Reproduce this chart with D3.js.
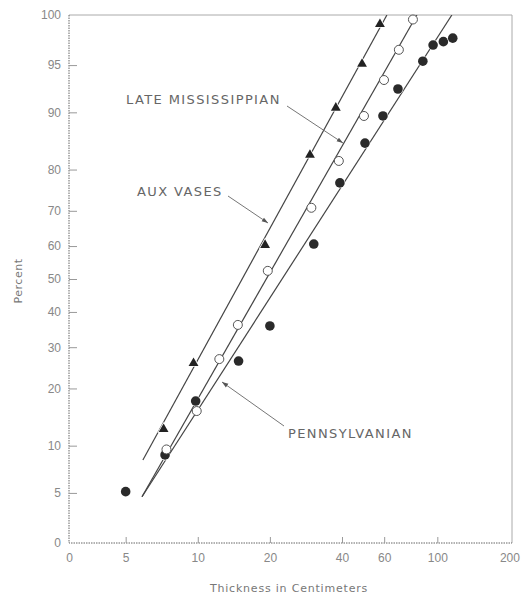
<!DOCTYPE html>
<html>
<head>
<meta charset="utf-8">
<script src="https://cdn.jsdelivr.net/npm/d3@7"></script>
<style>
  body { margin: 0; background: #fff; }
  svg { font-family: "DejaVu Sans", sans-serif; }
</style>
</head>
<body>
<div id="chart"></div>
<script>
// ---------- Data (thickness in cm, cumulative percent) ----------
const auxVases = [
  [7.2, 12.4], [9.6, 25.9], [19.1, 60.3], [29.4, 83], [37.7, 90.6], [48.5, 95.1], [57.6, 97.5]
];
const lateMiss = [
  [7.4, 9.5], [9.9, 15.5], [12.3, 26.9], [14.7, 36.2], [19.6, 52.5], [29.8, 70.8],
  [38.8, 81.8], [49.4, 89.5], [59.9, 93.7], [69.1, 96.1], [79.1, 97.7]
];
const penn = [
  [5, 5.1], [7.3, 8.8], [9.8, 17.4], [14.8, 26.4], [20, 35.9], [30.5, 60.6],
  [39.2, 77], [49.9, 85.2], [59.3, 89.5], [68.5, 92.8], [87, 95.3],
  [96, 96.4], [106, 96.6], [116, 96.8]
];
// fitted lines, two end points each [thickness, percent]
const auxLine = [[5.9, 8.2], [61.6, 97.9]];
const lateLine = [[5.85, 4.7], [82.2, 97.9]];
const pennLine = [[5.85, 4.7], [115, 97.9]];

const xTicks = [5, 10, 20, 40, 60, 100, 200];
const yTicks = [0, 5, 10, 20, 30, 40, 50, 60, 70, 80, 90, 95, 100];

// ---------- Probit ----------
function probit(p) {
  if (p <= 0) return -Infinity;
  if (p >= 1) return Infinity;
  const a = [-39.69683028665376, 220.9460984245205, -275.9285104469687, 138.3577518672690, -30.66479806614716, 2.506628277459239];
  const b = [-54.47609879822406, 161.5858368580409, -155.6989798598866, 66.80131188771972, -13.28068155288572];
  const c = [-0.007784894002430293, -0.3223964580411365, -2.400758277161838, -2.549732539343734, 4.374664141464968, 2.938163982698783];
  const d = [0.007784695709041462, 0.3224671290700398, 2.445134137142996, 3.754408661907416];
  const pl = 0.02425;
  let q, r;
  if (p < pl) {
    q = Math.sqrt(-2 * Math.log(p));
    return (((((c[0]*q+c[1])*q+c[2])*q+c[3])*q+c[4])*q+c[5]) / ((((d[0]*q+d[1])*q+d[2])*q+d[3])*q+1);
  }
  if (p > 1 - pl) {
    q = Math.sqrt(-2 * Math.log(1 - p));
    return -(((((c[0]*q+c[1])*q+c[2])*q+c[3])*q+c[4])*q+c[5]) / ((((d[0]*q+d[1])*q+d[2])*q+d[3])*q+1);
  }
  q = p - 0.5; r = q * q;
  return (((((a[0]*r+a[1])*r+a[2])*r+a[3])*r+a[4])*r+a[5])*q / (((((b[0]*r+b[1])*r+b[2])*r+b[3])*r+b[4])*r+1);
}

// ---------- Scales ----------
const width = 526, height = 594;
const mLeft = 69, mRight = 512, mTop = 15, mBottom = 543;

const x = d3.scaleLog().domain([2.9, 205]).range([mLeft, mRight]);
const z = d3.scaleLinear().domain([-2.03, 2.03]).range([mBottom, mTop]).clamp(true);

// percent -> pixel, usable by d3.axis
function y(p) { return z(probit(p / 100)); }
y.copy = () => y;
y.range = () => [mBottom, mTop];
y.domain = () => [0, 100];

const svg = d3.select("#chart").append("svg")
  .attr("width", width).attr("height", height);

// ---------- Frame ----------
svg.append("path")
  .attr("d", `M${mLeft},${mTop}H${mRight}V${mBottom}`)
  .attr("fill", "none").attr("stroke", "#aaa").attr("stroke-width", 1);
svg.append("path")
  .attr("d", `M${mLeft},${mTop}V${mBottom}H${mRight}`)
  .attr("fill", "none").attr("stroke", "#666").attr("stroke-width", 1)
  .attr("stroke-dasharray", "1.5,1");

// ---------- Axes ----------
const yAxis = svg.append("g")
  .attr("transform", `translate(${mLeft},0)`)
  .call(d3.axisLeft(y).tickValues(yTicks).tickFormat(d => d)
    .tickSizeInner(-8).tickSizeOuter(0).tickPadding(8));

const xAxis = svg.append("g")
  .attr("transform", `translate(0,${mBottom})`)
  .call(d3.axisBottom(x).tickValues([2.9, ...xTicks]).tickFormat((d, i) => i === 0 ? "0" : d)
    .tickSizeInner(-6).tickSizeOuter(0).tickPadding(10));

[yAxis, xAxis].forEach(g => {
  g.select(".domain").remove();
  g.selectAll("line").attr("stroke", "#999");
  g.selectAll("text").attr("fill", "#888").attr("font-size", 12);
});
// no tick marks at the frame corners
yAxis.selectAll(".tick").filter(d => d === 0 || d === 100).select("line").remove();
xAxis.selectAll(".tick").filter((d, i) => i === 0 || d === 200).select("line").remove();

svg.append("text")
  .attr("transform", `translate(22,${(mTop + mBottom) / 2 + 2}) rotate(-90)`)
  .attr("text-anchor", "middle").attr("fill", "#777").attr("font-size", 11)
  .attr("letter-spacing", 0.5)
  .text("Percent");

svg.append("text")
  .attr("x", 289).attr("y", 592)
  .attr("text-anchor", "middle").attr("fill", "#777").attr("font-size", 11)
  .attr("letter-spacing", 0.8)
  .text("Thickness in Centimeters");

// ---------- Fitted lines ----------
svg.append("clipPath").attr("id", "plot")
  .append("rect").attr("x", mLeft).attr("y", mTop)
  .attr("width", mRight - mLeft).attr("height", mBottom - mTop);

const line = d3.line().x(d => x(d[0])).y(d => y(d[1]));
svg.append("g").attr("clip-path", "url(#plot)")
  .selectAll("path")
  .data([auxLine, lateLine, pennLine])
  .join("path")
  .attr("d", line)
  .attr("fill", "none").attr("stroke", "#444").attr("stroke-width", 1.2);

// ---------- Markers ----------
const tri = d3.symbol().type(d3.symbolTriangle).size(42);

svg.append("g").selectAll("path")
  .data(auxVases)
  .join("path")
  .attr("d", tri)
  .attr("transform", d => `translate(${x(d[0])},${y(d[1])})`)
  .attr("fill", "#222").attr("stroke", "#fff").attr("stroke-width", 1.5)
  .attr("paint-order", "stroke");

svg.append("g").selectAll("circle")
  .data(penn)
  .join("circle")
  .attr("cx", d => x(d[0])).attr("cy", d => y(d[1]))
  .attr("r", 4.8)
  .attr("fill", "#2a2a2a").attr("stroke", "#fff").attr("stroke-width", 1.2)
  .attr("paint-order", "stroke");

svg.append("g").selectAll("circle")
  .data(lateMiss)
  .join("circle")
  .attr("cx", d => x(d[0])).attr("cy", d => y(d[1]))
  .attr("r", 4.5)
  .attr("fill", "#fff").attr("stroke", "#555").attr("stroke-width", 1);

// ---------- Annotations ----------
svg.append("defs").append("marker")
  .attr("id", "arrow").attr("viewBox", "0 0 10 10")
  .attr("refX", 10).attr("refY", 5)
  .attr("markerWidth", 7).attr("markerHeight", 7)
  .attr("orient", "auto")
  .append("path").attr("d", "M0,1.5L10,5L0,8.5Z").attr("fill", "#555");

const notes = [
  { text: "LATE MISSISSIPPIAN", tx: 126, ty: 104, from: [287, 106], to: [343, 143] },
  { text: "AUX VASES", tx: 137, ty: 196, from: [228, 196], to: [268, 223] },
  { text: "PENNSYLVANIAN", tx: 288, ty: 438, from: [284, 426], to: [222, 382] }
];

const ng = svg.append("g");
ng.selectAll("text")
  .data(notes)
  .join("text")
  .attr("x", d => d.tx).attr("y", d => d.ty)
  .attr("fill", "#666").attr("font-size", 13).attr("letter-spacing", 1.4)
  .text(d => d.text);

ng.selectAll("line")
  .data(notes)
  .join("line")
  .attr("x1", d => d.from[0]).attr("y1", d => d.from[1])
  .attr("x2", d => d.to[0]).attr("y2", d => d.to[1])
  .attr("stroke", "#666").attr("stroke-width", 0.9)
  .attr("marker-end", "url(#arrow)");
</script>
</body>
</html>
